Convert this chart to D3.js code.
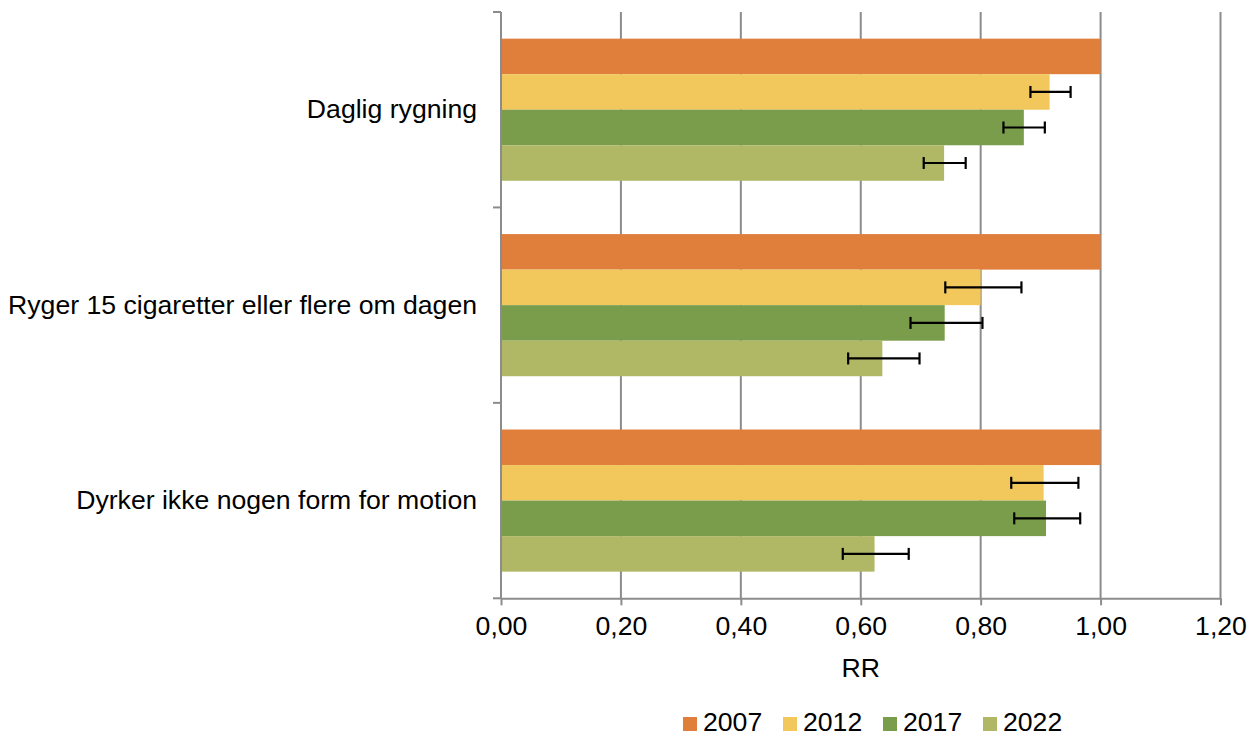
<!DOCTYPE html>
<html><head><meta charset="utf-8">
<script src="https://cdn.jsdelivr.net/npm/d3@7"></script>
<style>
html,body{margin:0;padding:0;background:#fff;}
text{font-family:"Liberation Sans",Arial,sans-serif;fill:#000;}
</style></head>
<body><svg id="c" width="1258" height="735"></svg>
<script>
const categories = ["Daglig rygning","Ryger 15 cigaretter eller flere om dagen","Dyrker ikke nogen form for motion"];
const years = ["2007","2012","2017","2022"];
const colors = ["#E07E3C","#F2C75C","#799D4A","#B0B865"];
const v2007 = [1.00, 1.00, 1.00];
const v2012 = [0.915, 0.800, 0.905];
const v2017 = [0.872, 0.740, 0.909];
const v2022 = [0.739, 0.636, 0.623];
const lo2012 = [0.883, 0.741, 0.851];
const hi2012 = [0.950, 0.868, 0.963];
const lo2017 = [0.838, 0.683, 0.856];
const hi2017 = [0.907, 0.803, 0.966];
const lo2022 = [0.705, 0.579, 0.570];
const hi2022 = [0.775, 0.698, 0.680];
const xTicks = [0, 0.2, 0.4, 0.6, 0.8, 1.0, 1.2];
const xTitle = "RR";

const series = [
  {year:years[0], values:v2007, lo:null, hi:null},
  {year:years[1], values:v2012, lo:lo2012, hi:hi2012},
  {year:years[2], values:v2017, lo:lo2017, hi:hi2017},
  {year:years[3], values:v2022, lo:lo2022, hi:hi2022}
];

const SX = 1.065; // horizontal stretch of text, as in the reference
const svg = d3.select("#c");
const L = 501, R = 1220.5, T = 12, B = 598.3;
const x = d3.scaleLinear().domain([0,1.2]).range([L,R]);
const y = d3.scaleBand().domain(categories).range([T,B]).paddingInner(0).paddingOuter(0);
const y1 = d3.scaleBand().domain(years).range([0,y.bandwidth()]).paddingInner(0).paddingOuter(0.75);
const color = d3.scaleOrdinal().domain(years).range(colors);
const fmt = d => d3.format(".2f")(d).replace(".", ",");
const axisColor = "#8c8c8c";

// gridlines
svg.append("g").selectAll("line").data(xTicks.slice(1)).join("line")
  .attr("x1", d=>x(d)).attr("x2", d=>x(d)).attr("y1", T).attr("y2", B)
  .attr("stroke", axisColor).attr("stroke-width", 2);

// bars
const rows = [];
series.forEach(s => categories.forEach((c,i) => rows.push({cat:c, year:s.year, v:s.values[i],
  lo: s.lo ? s.lo[i] : null, hi: s.hi ? s.hi[i] : null})));
svg.append("g").selectAll("rect").data(rows).join("rect")
  .attr("x", x(0)).attr("y", d => y(d.cat) + y1(d.year))
  .attr("width", d => x(d.v) - x(0)).attr("height", y1.bandwidth())
  .attr("fill", d => color(d.year));

// error bars
const eb = svg.append("g").attr("stroke","#000").attr("stroke-width",2.2);
rows.filter(d => d.lo !== null).forEach(d => {
  const cy = y(d.cat) + y1(d.year) + y1.bandwidth()/2;
  eb.append("line").attr("x1", x(d.lo)).attr("x2", x(d.hi)).attr("y1", cy).attr("y2", cy);
  eb.append("line").attr("x1", x(d.lo)).attr("x2", x(d.lo)).attr("y1", cy-6).attr("y2", cy+6);
  eb.append("line").attr("x1", x(d.hi)).attr("x2", x(d.hi)).attr("y1", cy-6).attr("y2", cy+6);
});

// x axis
const xa = svg.append("g").attr("transform", `translate(0,${B})`)
  .call(d3.axisBottom(x).tickValues(xTicks).tickFormat(fmt).tickSize(7).tickSizeOuter(0).tickPadding(12));
xa.select(".domain").attr("stroke", axisColor).attr("stroke-width", 2);
xa.selectAll(".tick line").attr("stroke", axisColor).attr("stroke-width", 2);
xa.selectAll(".tick text").attr("font-size", 25).attr("fill","#000")
  .attr("font-family", null).attr("transform", `scale(${SX},1)`);

// y axis
const ya = svg.append("g").attr("transform", `translate(${L},0)`);
ya.append("line").attr("x1",0).attr("x2",0).attr("y1",T).attr("y2",B).attr("stroke",axisColor).attr("stroke-width",2);
const bounds = [T, ...categories.map(c => y(c) + y.bandwidth())];
ya.selectAll("line.tk").data(bounds).join("line").attr("class","tk")
  .attr("x1",-8).attr("x2",0).attr("y1",d=>d).attr("y2",d=>d).attr("stroke",axisColor).attr("stroke-width",2);
svg.append("g").selectAll("text").data(categories).join("text")
  .attr("transform", d => `translate(477,${y(d) + y.bandwidth()/2}) scale(${SX},1)`)
  .attr("text-anchor","end").attr("dominant-baseline","central")
  .attr("font-size", 25).text(d => d);

// x title
svg.append("text").attr("transform", `translate(${x(0.6)},677) scale(${SX},1)`).attr("text-anchor","middle")
  .attr("font-size", 25).text(xTitle);

// legend
const lg = svg.append("g");
years.forEach((yr,i) => {
  const gx = 683 + i*100;
  lg.append("rect").attr("x", gx).attr("y", 717).attr("width", 14).attr("height", 14).attr("fill", color(yr));
  lg.append("text").attr("transform", `translate(${gx + 20},730.5) scale(${SX},1)`).attr("font-size", 25).text(yr);
});
</script></body></html>
